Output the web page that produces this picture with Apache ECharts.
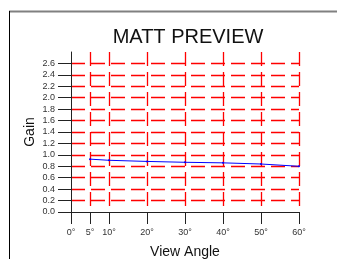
<!DOCTYPE html>
<html>
<head>
<meta charset="utf-8">
<script src="https://cdn.jsdelivr.net/npm/echarts@6/dist/echarts.min.js"></script>
<style>
  html, body { margin: 0; padding: 0; background: #fff; }
  #chart { width: 337px; height: 259px; }
</style>
</head>
<body>
<div id="chart"></div>
<script>
  // view angle (deg) and gain
  var angles = [5, 10, 20, 30, 40, 50, 60];
  var gains = [0.925, 0.905, 0.885, 0.87, 0.86, 0.84, 0.80];
  var xTicks = [0, 5, 10, 20, 30, 40, 50, 60];
  var yTicks = [0, 0.2, 0.4, 0.6, 0.8, 1.0, 1.2, 1.4, 1.6, 1.8, 2.0, 2.2, 2.4, 2.6];

  var font = 'Liberation Sans, Arial, sans-serif';
  var chart = echarts.init(document.getElementById('chart'));

  var gridDash = { color: '#ff0000', width: 1.3, type: [14, 6] };

  var option = {
    animation: false,
    title: {
      text: 'MATT PREVIEW',
      left: 183,
      top: 22,
      textAlign: 'center',
      textStyle: { fontFamily: font, fontWeight: 'normal', fontSize: 20, color: '#111' }
    },
    graphic: [
      // frame: grey top edge, black left edge
      { type: 'line', shape: { x1: 9, y1: 11.5, x2: 337, y2: 11.5 }, style: { stroke: '#808080', lineWidth: 2 } },
      { type: 'line', shape: { x1: 9.5, y1: 11, x2: 9.5, y2: 259 }, style: { stroke: '#000', lineWidth: 1 } }
    ],
    grid: { left: 71, right: 38, top: 52, bottom: 47, outerBoundsMode: 'none' },
    xAxis: {
      type: 'value',
      min: 0,
      max: 60,
      name: 'View Angle',
      nameLocation: 'middle',
      nameGap: 33,
      nameTextStyle: { fontFamily: font, fontSize: 14, color: '#111' },
      axisLine: { lineStyle: { color: '#222' } },
      axisTick: { length: 12, customValues: xTicks, lineStyle: { color: '#222' } },
      axisLabel: {
        customValues: xTicks,
        margin: 16,
        fontFamily: font, fontSize: 9, color: '#333',
        formatter: function (v) { return v + '°'; }
      },
      splitLine: { show: true, showMinLine: false, lineStyle: gridDash }
    },
    yAxis: {
      type: 'value',
      min: 0,
      max: 2.8,
      interval: 0.2,
      name: 'Gain',
      nameLocation: 'middle',
      nameGap: 34,
      nameMoveOverlap: false,
      nameTextStyle: { fontFamily: font, fontSize: 14, color: '#111' },
      axisLine: { show: true, lineStyle: { color: '#222' } },
      axisTick: { show: true, length: 13, customValues: yTicks, lineStyle: { color: '#222' } },
      axisLabel: {
        customValues: yTicks,
        margin: 16,
        fontFamily: font, fontSize: 9, color: '#333',
        formatter: function (v) { return v.toFixed(1); }
      },
      splitLine: { show: true, showMinLine: false, showMaxLine: true, lineStyle: gridDash }
    },
    series: [
      {
        type: 'line',
        data: angles.map(function (a, i) { return [a, gains[i]]; }),
        symbol: 'circle',
        symbolSize: 2,
        lineStyle: { color: '#0000ff', width: 1 },
        itemStyle: { color: '#0000ff' }
      }
    ]
  };

  chart.setOption(option);
</script>
</body>
</html>
